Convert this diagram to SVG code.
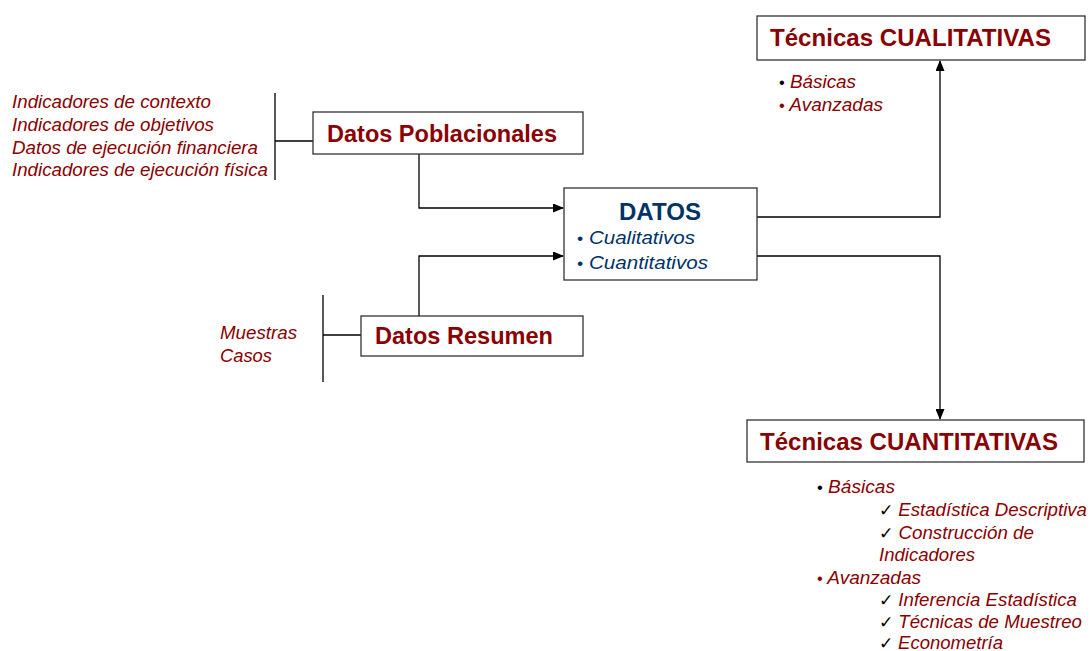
<svg xmlns="http://www.w3.org/2000/svg" width="1090" height="651" viewBox="0 0 1090 651">
<style>
.box{fill:#fff;stroke:#333;stroke-width:1.3}
.title{font-family:"Liberation Sans",Arial,sans-serif;font-weight:bold;font-size:23.5px;fill:#8B0000}
.blue{fill:#003366}
.it{font-family:"Liberation Sans",Arial,sans-serif;font-style:italic;font-size:18.5px;fill:#8B0000}
.itb{font-family:"Liberation Sans",Arial,sans-serif;font-style:italic;font-size:18.5px;fill:#003366}
.ln{fill:none;stroke:#000;stroke-width:1.3}
.blk{fill:#000}
.bul{font-style:normal;font-size:16px}
.chk{font-style:normal;font-size:17px;fill:#000}
</style>
<defs>
<marker id="arr" markerWidth="11" markerHeight="9" refX="10" refY="4.5" orient="auto" markerUnits="userSpaceOnUse">
<path d="M0,0 L11,4.5 L0,9 Z" fill="#000"/>
</marker>
</defs>
<rect width="1090" height="651" fill="#fff"/>
<g id="connectors">
<path class="ln" d="M419,154 V208 H563" marker-end="url(#arr)"/>
<path class="ln" d="M419,316 V256 H563" marker-end="url(#arr)"/>
<path class="ln" d="M757,217 H940 V61" marker-end="url(#arr)"/>
<path class="ln" d="M757,256 H940 V419" marker-end="url(#arr)"/>
<path class="ln" d="M275,93 V180 M275,141 H313"/>
<path class="ln" d="M323,295 V382 M323,335 H361"/>
</g>
<g id="labels-poblacionales">
<text class="it" x="12" y="108" textLength="199" lengthAdjust="spacingAndGlyphs">Indicadores de contexto</text>
<text class="it" x="12" y="131" textLength="202" lengthAdjust="spacingAndGlyphs">Indicadores de objetivos</text>
<text class="it" x="12" y="154" textLength="246" lengthAdjust="spacingAndGlyphs">Datos de ejecución financiera</text>
<text class="it" x="12" y="176" textLength="256" lengthAdjust="spacingAndGlyphs">Indicadores de ejecución física</text>
</g>
<g id="labels-resumen">
<text class="it" x="220" y="339" textLength="77" lengthAdjust="spacingAndGlyphs">Muestras</text>
<text class="it" x="220" y="362" textLength="52" lengthAdjust="spacingAndGlyphs">Casos</text>
</g>
<g id="node-poblacionales">
<rect class="box" x="313" y="112" width="270" height="42"/>
<text class="title" x="327" y="142" textLength="230" lengthAdjust="spacingAndGlyphs">Datos Poblacionales</text>
</g>
<g id="node-resumen">
<rect class="box" x="361" y="316" width="222" height="40"/>
<text class="title" x="375" y="344" textLength="178" lengthAdjust="spacingAndGlyphs">Datos Resumen</text>
</g>
<g id="node-datos">
<rect class="box" x="564" y="188" width="193" height="92"/>
<text class="title blue" x="619" y="220" textLength="82" lengthAdjust="spacingAndGlyphs">DATOS</text>
<text class="itb" x="577" y="244" textLength="118" lengthAdjust="spacingAndGlyphs"><tspan class="bul">•</tspan> Cualitativos</text>
<text class="itb" x="577" y="269" textLength="131" lengthAdjust="spacingAndGlyphs"><tspan class="bul">•</tspan> Cuantitativos</text>
</g>
<g id="node-cualitativas">
<rect class="box" x="757" y="16" width="328" height="44"/>
<text class="title" x="770" y="46" textLength="281" lengthAdjust="spacingAndGlyphs">Técnicas CUALITATIVAS</text>
<text class="it" x="779" y="88" textLength="77" lengthAdjust="spacingAndGlyphs"><tspan class="bul blk">•</tspan> Básicas</text>
<text class="it" x="779" y="111" textLength="104" lengthAdjust="spacingAndGlyphs"><tspan class="bul">•</tspan> Avanzadas</text>
</g>
<g id="node-cuantitativas">
<rect class="box" x="747" y="420" width="337" height="42"/>
<text class="title" x="760" y="450" textLength="298" lengthAdjust="spacingAndGlyphs">Técnicas CUANTITATIVAS</text>
<text class="it" x="817" y="493" textLength="78" lengthAdjust="spacingAndGlyphs"><tspan class="bul blk">•</tspan> Básicas</text>
<text class="it" x="879" y="516" textLength="208" lengthAdjust="spacingAndGlyphs"><tspan class="chk">✓</tspan> Estadística Descriptiva</text>
<text class="it" x="879" y="539" textLength="155" lengthAdjust="spacingAndGlyphs"><tspan class="chk">✓</tspan> Construcción de</text>
<text class="it" x="879" y="561" textLength="96" lengthAdjust="spacingAndGlyphs">Indicadores</text>
<text class="it" x="817" y="584" textLength="104" lengthAdjust="spacingAndGlyphs"><tspan class="bul">•</tspan> Avanzadas</text>
<text class="it" x="879" y="606" textLength="198" lengthAdjust="spacingAndGlyphs"><tspan class="chk">✓</tspan> Inferencia Estadística</text>
<text class="it" x="879" y="628" textLength="203" lengthAdjust="spacingAndGlyphs"><tspan class="chk">✓</tspan> Técnicas de Muestreo</text>
<text class="it" x="879" y="649" textLength="124" lengthAdjust="spacingAndGlyphs"><tspan class="chk">✓</tspan> Econometría</text>
</g>
</svg>
